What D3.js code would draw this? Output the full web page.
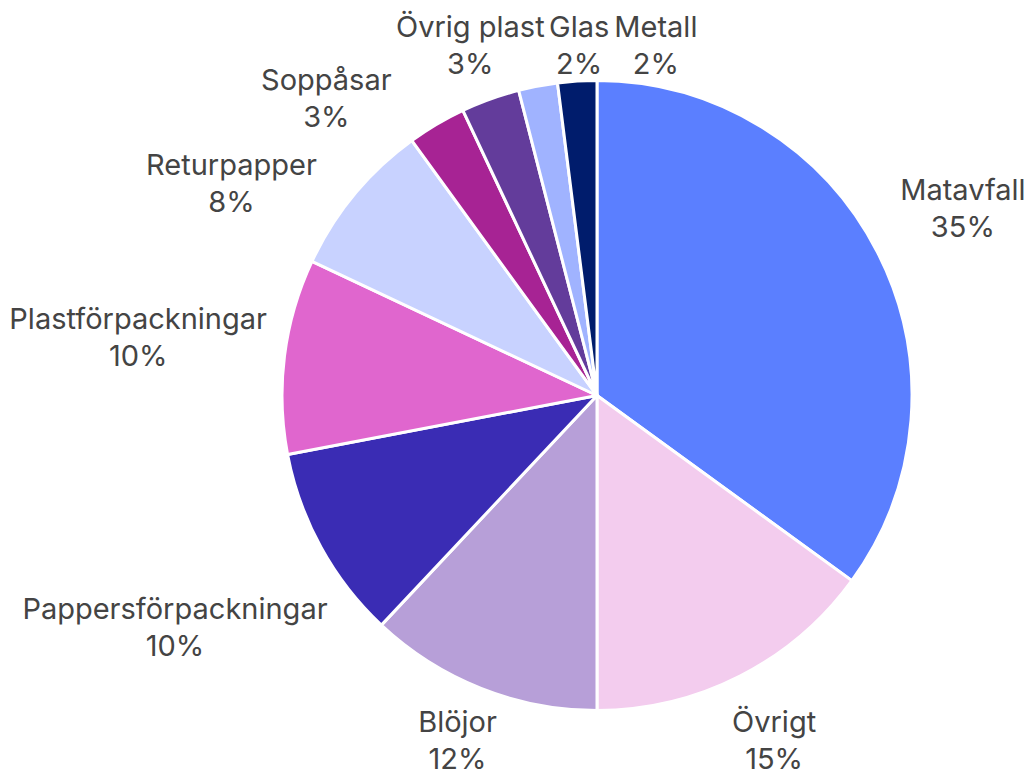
<!DOCTYPE html>
<html>
<head>
<meta charset="utf-8">
<script src="https://cdn.jsdelivr.net/npm/d3@7"></script>
<style>
  html, body { margin: 0; padding: 0; background: #fff; }
  svg { display: block; }
</style>
</head>
<body>
<script>
var categories = ["Matavfall", "Övrigt", "Blöjor", "Pappersförpackningar", "Plastförpackningar",
  "Returpapper", "Soppåsar", "Övrig plast", "Glas", "Metall"];
var values = [35, 15, 12, 10, 10, 8, 3, 3, 2, 2];
var colors = ["#5b7fff", "#f3ccee", "#b79fd8", "#3a2cb4", "#e066ce",
  "#c8d2ff", "#a72394", "#633c9b", "#a0b3ff", "#001c6c"];

var W = 1033, H = 782;
var cx = 597, cy = 395.5, radius = 315;
var labelR = 330;
var fontSize = 29, lineH = 37;

var data = categories.map((c, i) => ({ name: c, v: values[i], color: colors[i], i: i }));

var svg = d3.select("body").append("svg")
  .attr("width", W)
  .attr("height", H);

var pie = d3.pie().sort(null).value(d => d.v);
var arcs = pie(data);
var arc = d3.arc().innerRadius(0).outerRadius(radius);

var g = svg.append("g").attr("transform", "translate(" + cx + "," + cy + ")");

// slices
g.selectAll(".slice").data(arcs).enter()
  .append("path")
  .attr("class", "slice")
  .attr("d", arc)
  .attr("fill", d => d.data.color)
  .attr("stroke", "#fff")
  .attr("stroke-width", 3)
  .attr("stroke-linejoin", "round");

// labels
var lab = svg.selectAll(".lab").data(arcs).enter()
  .append("text")
  .attr("class", "lab")
  .attr("text-anchor", "middle")
  .attr("font-family", "Inter, 'Noto Sans', sans-serif")
  .attr("font-size", fontSize)
  .attr("fill", "#444");

lab.append("tspan").attr("x", 0).attr("dy", 0).text(d => d.data.name);
lab.append("tspan").attr("x", 0).attr("dy", lineH).text(d => d.data.v + "%");

// measure each label box
var boxes = [];
lab.each(function(d) {
  var b = this.getBBox();
  boxes.push({ a: (d.startAngle + d.endAngle) / 2, w: b.width, h: lineH * 2, node: this });
});

function place(b) {
  var s = Math.sin(b.a), c = Math.cos(b.a);
  // right side labels sit a little further out
  var r = labelR + (s > 0 ? 8 : 0);
  var dist = r + b.w / 2 * Math.abs(s) + b.h / 2 * Math.abs(c);
  b.x = cx + dist * s;
  b.y = cy - dist * c;
  if (b.y - b.h / 2 < 9) b.y = 9 + b.h / 2;
  if (b.y + b.h / 2 > H - 4) b.y = H - 4 - b.h / 2;
}

function overlap(p, q) {
  return Math.abs(p.x - q.x) < (p.w + q.w) / 2 + 4 && Math.abs(p.y - q.y) < (p.h + q.h) / 2 + 10;
}

// spread overlapping neighbours apart by angle
boxes.forEach(place);
for (var it = 0; it < 800; it++) {
  var moved = false;
  for (var k = 0; k < boxes.length; k++) {
    var p = boxes[k], q = boxes[(k + 1) % boxes.length];
    if (overlap(p, q)) {
      p.a -= 0.002;
      q.a += 0.002;
      place(p); place(q);
      moved = true;
    }
  }
  if (!moved) break;
}

boxes.forEach(function(b) {
  var top = b.y - b.h / 2;
  d3.select(b.node).attr("transform", "translate(" + b.x + "," + (top + 28) + ")");
});
</script>
</body>
</html>
